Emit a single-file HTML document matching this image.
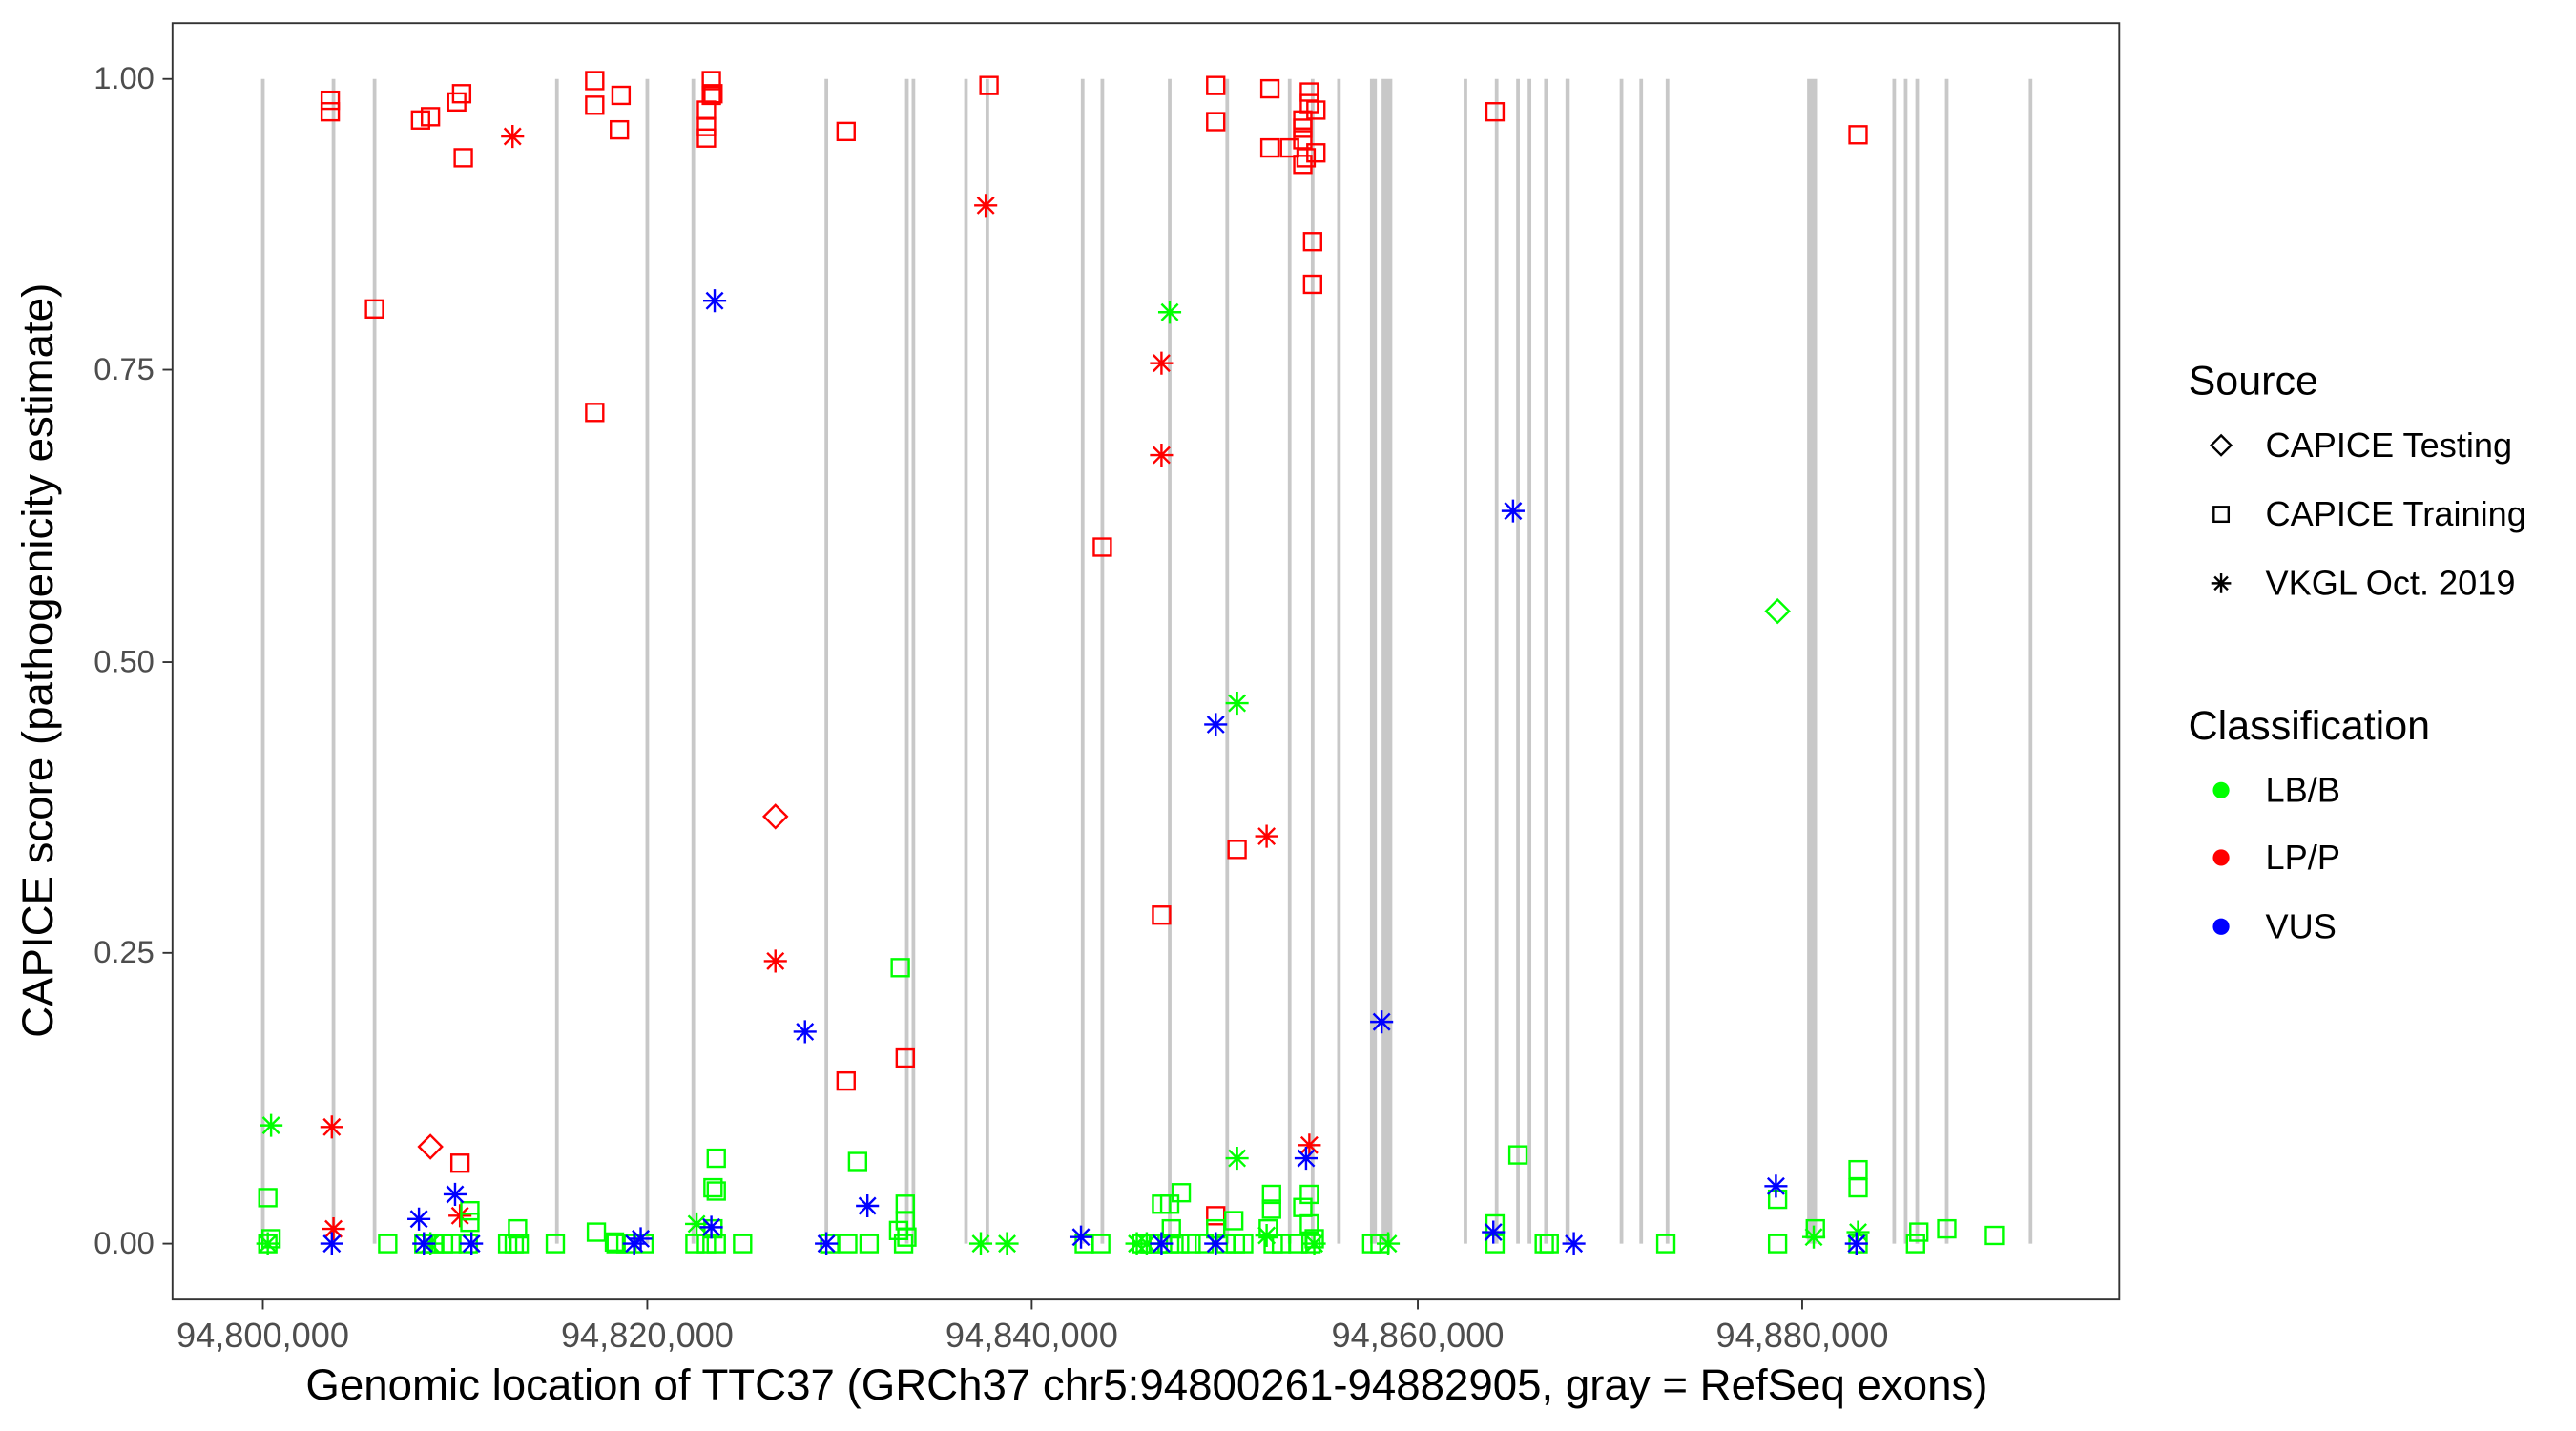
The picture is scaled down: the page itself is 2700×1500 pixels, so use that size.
<!DOCTYPE html>
<html><head><meta charset="utf-8"><style>html,body{margin:0;padding:0;background:#fff}svg{display:block}</style></head>
<body>
<svg width="2700" height="1500" viewBox="0 0 1568 871" xmlns="http://www.w3.org/2000/svg" xmlns:xlink="http://www.w3.org/1999/xlink" font-family="Liberation Sans, Arial, sans-serif">
<defs>
<rect id="q" x="-5.2" y="-5.2" width="10.4" height="10.4" fill="none" stroke-width="1.4"/>
<path id="s" d="M-7,0H7M0,-7V7M-5,-5L5,5M-5,5L5,-5" fill="none" stroke-width="1.4"/>
<path id="d" d="M0,-7L7,0L0,7L-7,0Z" fill="none" stroke-width="1.4"/>
</defs>
<rect x="0" y="0" width="1568" height="871" fill="#fff"/>
<!-- exon lines -->
<g stroke="#c8c8c8" stroke-width="2.2">
<line x1="160" y1="48" x2="160" y2="757"/><line x1="203" y1="48" x2="203" y2="757"/><line x1="228" y1="48" x2="228" y2="757"/>
<line x1="339" y1="48" x2="339" y2="757"/><line x1="394" y1="48" x2="394" y2="757"/><line x1="422" y1="48" x2="422" y2="757"/>
<line x1="503" y1="48" x2="503" y2="757"/><line x1="552" y1="48" x2="552" y2="757"/><line x1="556" y1="48" x2="556" y2="757"/>
<line x1="588" y1="48" x2="588" y2="757"/><line x1="601" y1="48" x2="601" y2="757"/><line x1="659" y1="48" x2="659" y2="757"/>
<line x1="671" y1="48" x2="671" y2="757"/><line x1="712" y1="48" x2="712" y2="757"/><line x1="747" y1="48" x2="747" y2="757"/>
<line x1="785" y1="48" x2="785" y2="757"/><line x1="799" y1="48" x2="799" y2="757"/><line x1="815" y1="48" x2="815" y2="757"/>
<line x1="835" y1="48" x2="835" y2="757"/><line x1="837" y1="48" x2="837" y2="757"/>
<line x1="892" y1="48" x2="892" y2="757"/><line x1="911" y1="48" x2="911" y2="757"/><line x1="924" y1="48" x2="924" y2="757"/>
<line x1="931" y1="48" x2="931" y2="757"/><line x1="941" y1="48" x2="941" y2="757"/><line x1="954" y1="48" x2="954" y2="757"/>
<line x1="987" y1="48" x2="987" y2="757"/><line x1="999" y1="48" x2="999" y2="757"/><line x1="1015" y1="48" x2="1015" y2="757"/>
<line x1="1153" y1="48" x2="1153" y2="757"/><line x1="1160" y1="48" x2="1160" y2="757"/><line x1="1167" y1="48" x2="1167" y2="757"/>
<line x1="1185" y1="48" x2="1185" y2="757"/><line x1="1236" y1="48" x2="1236" y2="757"/>
</g>
<rect x="841" y="48" width="6.5" height="709" fill="#c8c8c8"/>
<rect x="1100" y="48" width="6" height="709" fill="#c8c8c8"/>
<rect x="953" y="48" width="2.5" height="709" fill="#c8c8c8"/>

<!-- red -->
<g stroke="#ff0000">
<use xlink:href="#q" x="201" y="61"/><use xlink:href="#q" x="201" y="68"/><use xlink:href="#q" x="228" y="188"/>
<use xlink:href="#q" x="256" y="73"/><use xlink:href="#q" x="262" y="71"/><use xlink:href="#q" x="278" y="62"/>
<use xlink:href="#q" x="281" y="57"/><use xlink:href="#q" x="282" y="96"/>
<use xlink:href="#q" x="362" y="49"/><use xlink:href="#q" x="362" y="64"/><use xlink:href="#q" x="378" y="58"/><use xlink:href="#q" x="377" y="79"/>
<use xlink:href="#q" x="362" y="251"/>
<use xlink:href="#q" x="433" y="49"/><use xlink:href="#q" x="433" y="58"/><use xlink:href="#q" x="430" y="67"/><use xlink:href="#q" x="430" y="77"/><use xlink:href="#q" x="430" y="84"/><use xlink:href="#q" x="434" y="57"/>
<use xlink:href="#q" x="515" y="80"/><use xlink:href="#q" x="602" y="52"/><use xlink:href="#q" x="671" y="333"/>
<use xlink:href="#q" x="740" y="52"/><use xlink:href="#q" x="740" y="74"/><use xlink:href="#q" x="773" y="54"/><use xlink:href="#q" x="773" y="90"/>
<use xlink:href="#q" x="785" y="90"/><use xlink:href="#q" x="793" y="73"/><use xlink:href="#q" x="793" y="78"/><use xlink:href="#q" x="793" y="85"/>
<use xlink:href="#q" x="793" y="100"/><use xlink:href="#q" x="795" y="96"/><use xlink:href="#q" x="797" y="56"/><use xlink:href="#q" x="797" y="63"/>
<use xlink:href="#q" x="801" y="67"/><use xlink:href="#q" x="801" y="93"/><use xlink:href="#q" x="799" y="147"/><use xlink:href="#q" x="799" y="173"/>
<use xlink:href="#q" x="910" y="68"/><use xlink:href="#q" x="1131" y="82"/><use xlink:href="#q" x="707" y="557"/><use xlink:href="#q" x="753" y="517"/>
<use xlink:href="#q" x="551" y="644"/><use xlink:href="#q" x="515" y="658"/><use xlink:href="#q" x="740" y="740"/><use xlink:href="#q" x="280" y="708"/>
<use xlink:href="#s" x="312" y="83"/><use xlink:href="#s" x="600" y="125"/><use xlink:href="#s" x="707" y="221"/><use xlink:href="#s" x="707" y="277"/>
<use xlink:href="#s" x="472" y="585"/><use xlink:href="#s" x="771" y="509"/><use xlink:href="#s" x="202" y="686"/><use xlink:href="#s" x="203" y="748"/>
<use xlink:href="#s" x="280" y="740"/><use xlink:href="#s" x="797" y="697"/>
<use xlink:href="#d" x="472" y="497"/><use xlink:href="#d" x="262" y="698"/>
</g>
<!-- green -->
<g stroke="#00ff00">
<use xlink:href="#q" x="163" y="729"/><use xlink:href="#q" x="548" y="589"/><use xlink:href="#q" x="522" y="707"/><use xlink:href="#q" x="436" y="705"/>
<use xlink:href="#q" x="434" y="723"/><use xlink:href="#q" x="436" y="725"/><use xlink:href="#q" x="551" y="733"/><use xlink:href="#q" x="551" y="743"/>
<use xlink:href="#q" x="924" y="703"/><use xlink:href="#q" x="1131" y="712"/><use xlink:href="#q" x="1131" y="723"/><use xlink:href="#q" x="1082" y="730"/>
<use xlink:href="#q" x="1105" y="748"/><use xlink:href="#q" x="1185" y="748"/><use xlink:href="#q" x="1168" y="750"/><use xlink:href="#q" x="1214" y="752"/>
<use xlink:href="#q" x="797" y="727"/><use xlink:href="#q" x="793" y="735"/><use xlink:href="#q" x="774" y="727"/><use xlink:href="#q" x="774" y="736"/>
<use xlink:href="#q" x="719" y="726"/><use xlink:href="#q" x="712" y="733"/><use xlink:href="#q" x="707" y="733"/><use xlink:href="#q" x="751" y="743"/>
<use xlink:href="#q" x="713" y="748"/><use xlink:href="#q" x="363" y="750"/><use xlink:href="#q" x="374" y="756"/><use xlink:href="#q" x="286" y="737"/>
<use xlink:href="#q" x="286" y="744"/><use xlink:href="#q" x="315" y="748"/><use xlink:href="#q" x="910" y="745"/><use xlink:href="#q" x="547" y="749"/>
<use xlink:href="#q" x="772" y="748"/><use xlink:href="#q" x="797" y="745"/><use xlink:href="#q" x="740" y="748"/><use xlink:href="#q" x="434" y="748"/>
<use xlink:href="#q" x="163" y="757"/><use xlink:href="#q" x="165" y="754"/><use xlink:href="#q" x="236" y="757"/><use xlink:href="#q" x="258" y="757"/><use xlink:href="#q" x="264" y="757"/>
<use xlink:href="#q" x="270" y="757"/><use xlink:href="#q" x="275" y="757"/><use xlink:href="#q" x="285" y="757"/><use xlink:href="#q" x="309" y="757"/>
<use xlink:href="#q" x="313" y="757"/><use xlink:href="#q" x="316" y="757"/><use xlink:href="#q" x="338" y="757"/><use xlink:href="#q" x="375" y="757"/>
<use xlink:href="#q" x="381" y="757"/><use xlink:href="#q" x="392" y="757"/><use xlink:href="#q" x="423" y="757"/><use xlink:href="#q" x="430" y="757"/>
<use xlink:href="#q" x="436" y="757"/><use xlink:href="#q" x="452" y="757"/><use xlink:href="#q" x="505" y="757"/><use xlink:href="#q" x="516" y="757"/>
<use xlink:href="#q" x="529" y="757"/><use xlink:href="#q" x="550" y="757"/><use xlink:href="#q" x="552" y="753"/><use xlink:href="#q" x="660" y="757"/>
<use xlink:href="#q" x="670" y="757"/><use xlink:href="#q" x="695" y="757"/><use xlink:href="#q" x="700" y="757"/><use xlink:href="#q" x="705" y="757"/>
<use xlink:href="#q" x="712" y="757"/><use xlink:href="#q" x="718" y="757"/><use xlink:href="#q" x="725" y="757"/><use xlink:href="#q" x="733" y="757"/>
<use xlink:href="#q" x="746" y="757"/><use xlink:href="#q" x="752" y="757"/><use xlink:href="#q" x="757" y="757"/><use xlink:href="#q" x="775" y="757"/>
<use xlink:href="#q" x="780" y="757"/><use xlink:href="#q" x="790" y="757"/><use xlink:href="#q" x="798" y="757"/><use xlink:href="#q" x="800" y="754"/>
<use xlink:href="#q" x="835" y="757"/><use xlink:href="#q" x="840" y="757"/><use xlink:href="#q" x="910" y="757"/><use xlink:href="#q" x="940" y="757"/>
<use xlink:href="#q" x="943" y="757"/><use xlink:href="#q" x="1014" y="757"/><use xlink:href="#q" x="1082" y="757"/><use xlink:href="#q" x="1166" y="757"/><use xlink:href="#q" x="1131" y="757"/>
<use xlink:href="#s" x="165" y="685"/><use xlink:href="#s" x="712" y="190"/><use xlink:href="#s" x="753" y="428"/><use xlink:href="#s" x="753" y="705"/>
<use xlink:href="#s" x="424" y="745"/><use xlink:href="#s" x="163" y="757"/><use xlink:href="#s" x="262" y="757"/><use xlink:href="#s" x="597" y="757"/>
<use xlink:href="#s" x="613" y="757"/><use xlink:href="#s" x="845" y="757"/><use xlink:href="#s" x="1104" y="753"/><use xlink:href="#s" x="1131" y="750"/>
<use xlink:href="#s" x="692" y="757"/><use xlink:href="#s" x="771" y="752"/><use xlink:href="#s" x="698" y="757"/><use xlink:href="#s" x="800" y="757"/>
<use xlink:href="#d" x="1082" y="372"/>
</g>
<!-- blue -->
<g stroke="#0000ff">
<use xlink:href="#s" x="435" y="183"/><use xlink:href="#s" x="921" y="311"/><use xlink:href="#s" x="740" y="441"/><use xlink:href="#s" x="841" y="622"/>
<use xlink:href="#s" x="490" y="628"/><use xlink:href="#s" x="528" y="734"/><use xlink:href="#s" x="795" y="705"/><use xlink:href="#s" x="255" y="742"/>
<use xlink:href="#s" x="277" y="727"/><use xlink:href="#s" x="1081" y="722"/><use xlink:href="#s" x="433" y="747"/><use xlink:href="#s" x="202" y="757"/>
<use xlink:href="#s" x="258" y="757"/><use xlink:href="#s" x="287" y="757"/><use xlink:href="#s" x="390" y="754"/><use xlink:href="#s" x="386" y="757"/>
<use xlink:href="#s" x="658" y="753"/><use xlink:href="#s" x="707" y="757"/><use xlink:href="#s" x="740" y="757"/><use xlink:href="#s" x="909" y="750"/>
<use xlink:href="#s" x="958" y="757"/><use xlink:href="#s" x="1130" y="757"/><use xlink:href="#s" x="503" y="757"/>
</g>

<!-- panel border -->
<rect x="105" y="14" width="1185" height="777" fill="none" stroke="#333" stroke-width="1.1"/>
<g stroke="#333" stroke-width="1.1">
<line x1="99" y1="48" x2="105" y2="48"/><line x1="99" y1="225" x2="105" y2="225"/><line x1="99" y1="403" x2="105" y2="403"/>
<line x1="99" y1="580" x2="105" y2="580"/><line x1="99" y1="757" x2="105" y2="757"/>
<line x1="160" y1="791" x2="160" y2="797"/><line x1="394" y1="791" x2="394" y2="797"/><line x1="628" y1="791" x2="628" y2="797"/>
<line x1="863" y1="791" x2="863" y2="797"/><line x1="1097" y1="791" x2="1097" y2="797"/>
</g>
<g font-size="19" fill="#4d4d4d" text-anchor="end">
<text x="94" y="54">1.00</text><text x="94" y="231">0.75</text><text x="94" y="409">0.50</text><text x="94" y="586">0.25</text><text x="94" y="763">0.00</text>
</g>
<g font-size="21" fill="#4d4d4d" text-anchor="middle">
<text x="160" y="820">94,800,000</text><text x="394" y="820">94,820,000</text><text x="628" y="820">94,840,000</text>
<text x="863" y="820">94,860,000</text><text x="1097" y="820">94,880,000</text>
</g>
<text x="698" y="852" font-size="26.5" text-anchor="middle" fill="#000">Genomic location of TTC37 (GRCh37 chr5:94800261-94882905, gray = RefSeq exons)</text>
<text transform="translate(32,402) rotate(-90)" font-size="26.5" text-anchor="middle" fill="#000">CAPICE score (pathogenicity estimate)</text>

<!-- legend -->
<text x="1332" y="240" font-size="25" fill="#000">Source</text>
<g stroke="#000" fill="none" stroke-width="1.4">
<path d="M1352,265L1358,271L1352,277L1346,271Z"/>
<rect x="1347.5" y="308.5" width="9" height="9"/>
<path d="M1346,355H1358M1352,349V361M1348,351L1356,359M1348,359L1356,351"/>
</g>
<g font-size="21" fill="#000">
<text x="1379" y="278">CAPICE Testing</text><text x="1379" y="320">CAPICE Training</text><text x="1379" y="362">VKGL Oct. 2019</text>
</g>
<text x="1332" y="450" font-size="25" fill="#000">Classification</text>
<circle cx="1352" cy="481" r="5" fill="#00ff00"/><circle cx="1352" cy="522" r="5" fill="#ff0000"/><circle cx="1352" cy="564" r="5" fill="#0000ff"/>
<g font-size="21" fill="#000">
<text x="1379" y="488">LB/B</text><text x="1379" y="529">LP/P</text><text x="1379" y="571">VUS</text>
</g>
</svg>
</body></html>
